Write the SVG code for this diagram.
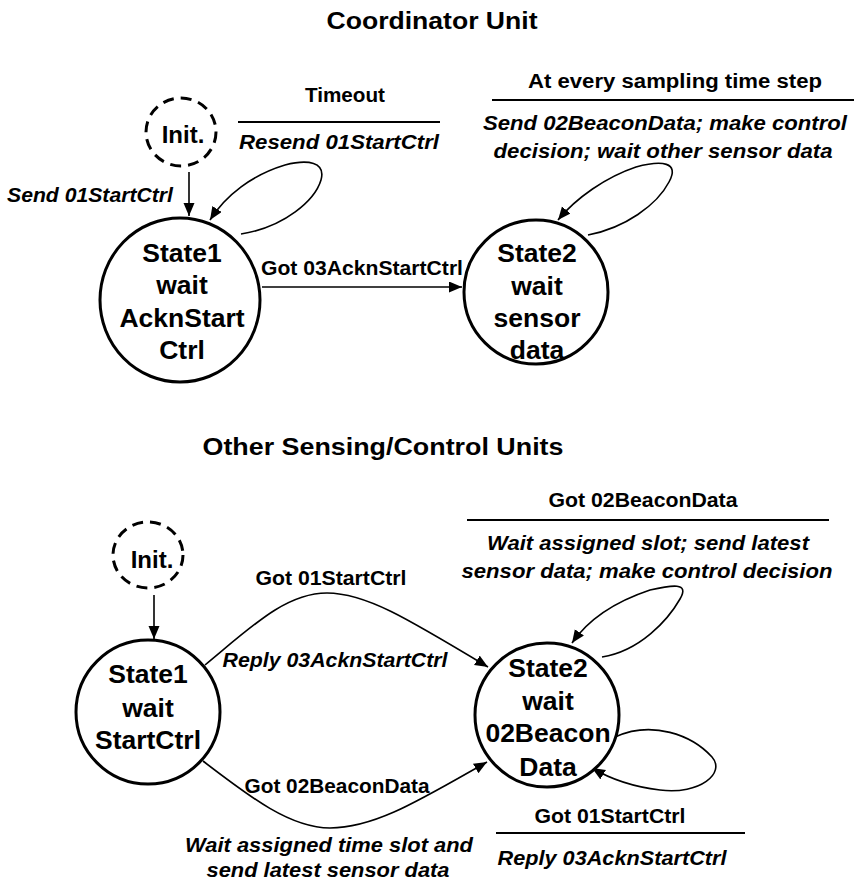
<svg xmlns="http://www.w3.org/2000/svg" width="854" height="884" viewBox="0 0 854 884">
<defs>
<marker id="arr" markerUnits="userSpaceOnUse" markerWidth="14" markerHeight="12" refX="13" refY="5.5" orient="auto">
<path d="M0,0 L13,5.5 L0,11 z" fill="#000"/>
</marker>
<style>
text{font-family:"Liberation Sans",Arial,sans-serif;fill:#000;font-weight:bold;}
.title{font-size:23px;text-anchor:middle;}
.lbl{font-size:20px;text-anchor:middle;}
.it{font-size:20px;font-style:italic;text-anchor:middle;}
.st{font-size:26.5px;text-anchor:middle;}
.init{font-size:24px;text-anchor:middle;}
.node{fill:#fff;stroke:#000;stroke-width:3;}
.dash{fill:#fff;stroke:#000;stroke-width:3;stroke-dasharray:11 7;}
.conn{fill:none;stroke:#000;stroke-width:1.6;marker-end:url(#arr);}
.rule{stroke:#000;stroke-width:2;}
</style>
</defs>
<rect width="854" height="884" fill="#fff"/>

<text class="title" x="432" y="29" textLength="211" lengthAdjust="spacingAndGlyphs">Coordinator Unit</text>
<text class="title" x="383" y="455" textLength="361" lengthAdjust="spacingAndGlyphs">Other Sensing/Control Units</text>

<g id="connectors">
<path class="conn" d="M189,172 L189,216"/>
<path class="conn" d="M241,234 C285,227 315,200 321,180 C326,162 308,159 285,165 C252,175 226,195 210,220"/>
<path class="conn" d="M262,287 L462,287"/>
<path class="conn" d="M588,235 C625,228 657,205 669,182 C680,162 662,160 636,167 C606,177 576,198 558,220"/>
<path class="conn" d="M154,595 L154,639"/>
<path class="conn" d="M205,665 C250,628 285,593 327,593 C365,593 405,617 488,667"/>
<path class="conn" d="M203,761 C250,797 290,828 330,828 C375,828 420,800 487,762"/>
<path class="conn" d="M602,657 C640,651 668,620 680,599 C690,582 672,585 650,590 C620,600 590,617 572,643"/>
<path class="conn" d="M615,737 C652,720 692,735 712,757 C726,773 700,795 660,790 C635,787 612,780 592,768"/>
</g>

<g id="lbl-timeout">
<text class="lbl" x="345" y="102" textLength="80" lengthAdjust="spacingAndGlyphs">Timeout</text>
<line class="rule" x1="238" y1="122" x2="440" y2="122"/>
<text class="it" x="339" y="149" textLength="200" lengthAdjust="spacingAndGlyphs">Resend 01StartCtrl</text>
</g>
<text class="it" x="90" y="202" textLength="166" lengthAdjust="spacingAndGlyphs">Send 01StartCtrl</text>
<text class="lbl" x="362" y="275" textLength="202" lengthAdjust="spacingAndGlyphs">Got 03AcknStartCtrl</text>
<g id="lbl-sampling">
<text class="lbl" x="675" y="88" textLength="294" lengthAdjust="spacingAndGlyphs">At every sampling time step</text>
<line class="rule" x1="492" y1="100" x2="854" y2="100"/>
<text class="it" x="665" y="130" textLength="364" lengthAdjust="spacingAndGlyphs">Send 02BeaconData;  make control</text>
<text class="it" x="663" y="158" textLength="339" lengthAdjust="spacingAndGlyphs">decision; wait other sensor data</text>
</g>

<text class="lbl" x="331" y="585" textLength="151" lengthAdjust="spacingAndGlyphs">Got 01StartCtrl</text>
<text class="it" x="335" y="667" textLength="225" lengthAdjust="spacingAndGlyphs">Reply 03AcknStartCtrl</text>
<text class="lbl" x="337" y="793" textLength="185" lengthAdjust="spacingAndGlyphs">Got 02BeaconData</text>
<text class="it" x="329" y="852" textLength="288" lengthAdjust="spacingAndGlyphs">Wait assigned time slot and</text>
<text class="it" x="328" y="877" textLength="243" lengthAdjust="spacingAndGlyphs">send latest sensor data</text>
<g id="lbl-beacon">
<text class="lbl" x="643" y="507" textLength="189" lengthAdjust="spacingAndGlyphs">Got 02BeaconData</text>
<line class="rule" x1="467" y1="520" x2="829" y2="520"/>
<text class="it" x="648" y="550" textLength="322" lengthAdjust="spacingAndGlyphs">Wait assigned slot; send latest</text>
<text class="it" x="647" y="578" textLength="371" lengthAdjust="spacingAndGlyphs">sensor data; make control decision</text>
</g>
<g id="lbl-start">
<text class="lbl" x="610" y="823" textLength="151" lengthAdjust="spacingAndGlyphs">Got 01StartCtrl</text>
<line class="rule" x1="496" y1="833" x2="745" y2="833"/>
<text class="it" x="612" y="865" textLength="229" lengthAdjust="spacingAndGlyphs">Reply 03AcknStartCtrl</text>
</g>

<g id="init-top">
<ellipse class="dash" cx="181" cy="132" rx="35" ry="34"/>
<text class="init" x="183" y="143">Init.</text>
</g>
<g id="coord-state1">
<ellipse class="node" cx="180" cy="300" rx="80" ry="82"/>
<text class="st" x="182" y="262">State1</text>
<text class="st" x="182" y="294">wait</text>
<text class="st" x="182" y="327">AcknStart</text>
<text class="st" x="182" y="359">Ctrl</text>
</g>
<g id="coord-state2">
<circle class="node" cx="536" cy="292" r="72"/>
<text class="st" x="537" y="262">State2</text>
<text class="st" x="537" y="295">wait</text>
<text class="st" x="537" y="327">sensor</text>
<text class="st" x="537" y="359">data</text>
</g>

<g id="init-bottom">
<ellipse class="dash" cx="148" cy="555" rx="35" ry="33"/>
<text class="init" x="152" y="568">Init.</text>
</g>
<g id="other-state1">
<circle class="node" cx="148" cy="712" r="72"/>
<text class="st" x="148" y="683">State1</text>
<text class="st" x="148" y="717">wait</text>
<text class="st" x="148" y="749">StartCtrl</text>
</g>
<g id="other-state2">
<circle class="node" cx="547" cy="715" r="72"/>
<text class="st" x="548" y="677">State2</text>
<text class="st" x="548" y="710">wait</text>
<text class="st" x="548" y="742">02Beacon</text>
<text class="st" x="548" y="776">Data</text>
</g>
</svg>
